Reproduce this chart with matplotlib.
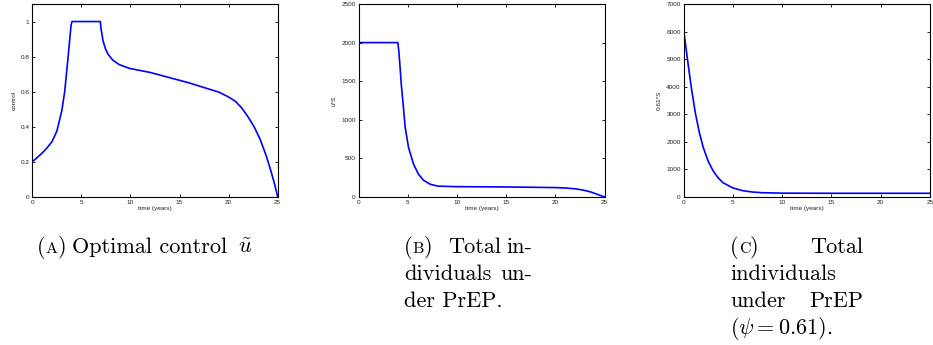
import matplotlib
matplotlib.use("Agg")
import matplotlib.pyplot as plt
from matplotlib.ticker import FormatStrFormatter

plt.rcParams['mathtext.fontset'] = 'cm'
plt.rcParams['font.family'] = ['Liberation Sans', 'DejaVu Sans']

# optimal control u(t)
ctrl_t = [0, 0.5, 1.0, 1.5, 2.0, 2.5, 2.8, 3.0, 3.3, 3.6, 3.8, 3.95, 4.05, 6.93, 7.0,
          7.2, 7.45, 7.7, 8.2, 8.88, 9.9, 12, 14, 16, 18, 19, 20, 20.7, 21.3, 22,
          22.6, 23.2, 23.8, 24.3, 24.7, 25]
ctrl_u = [0.20, 0.225, 0.25, 0.28, 0.315, 0.375, 0.444, 0.49, 0.60, 0.77, 0.89, 0.98,
          1.0, 1.0, 0.96, 0.891, 0.845, 0.815, 0.78, 0.754, 0.733, 0.71, 0.68, 0.65,
          0.615, 0.598, 0.57, 0.545, 0.51, 0.455, 0.40, 0.33, 0.24, 0.15, 0.07, 0.0]

# u*S
prep_t = [0, 4.0, 4.1, 4.22, 4.35, 4.5, 4.74, 5.08, 5.59, 6.09, 6.6, 7.28, 8.1, 10, 15,
          20, 21, 22, 22.8, 23.5, 24, 24.5, 25]
prep_uS = [2000, 2000, 1880, 1683, 1450, 1250, 902, 642, 425, 295, 217, 165, 140, 134,
           130, 122, 117, 106, 90, 68, 47, 22, 0]

# 0.61*S
prep61_t = [0, 0.4, 0.8, 1.2, 1.6, 2.0, 2.5, 3.0, 3.5, 4.0, 5.0, 6.0, 7.0, 8.0, 10,
            15, 20, 25]
prep61_S = [6100, 5000, 3950, 3050, 2350, 1800, 1300, 950, 700, 520, 330, 230, 180,
            155, 140, 135, 135, 135]

W, H = 933, 345
fig = plt.figure(figsize=(W / 100, H / 100), dpi=100)


def make_axes(left, right, top=4, bottom=197):
    ax = fig.add_axes([left / W, 1 - bottom / H, (right - left) / W, (bottom - top) / H])
    for s in ax.spines.values():
        s.set_linewidth(0.8)
    ax.tick_params(direction='in', length=2.5, width=0.6, top=True, right=True,
                   labelsize=4.6, pad=2, colors='black', labelcolor='#222222')
    ax.set_xlim(0, 25)
    ax.set_xticks([0, 5, 10, 15, 20, 25])
    ax.set_xlabel("time (years)", fontsize=4.6, labelpad=1, color='#222222')
    return ax


ax1 = make_axes(32.3, 277.7)
ax1.plot(ctrl_t, ctrl_u, color='#0000ff', lw=1.2)
ax1.set_ylim(0, 1.1)
ax1.set_yticks([0, 0.2, 0.4, 0.6, 0.8, 1])
ax1.yaxis.set_major_formatter(FormatStrFormatter('%g'))
ax1.set_ylabel("control", fontsize=4.6, labelpad=3, color='#222222')

ax2 = make_axes(358.5, 604.7)
ax2.plot(prep_t, prep_uS, color='#0000ff', lw=1.2)
ax2.set_ylim(0, 2500)
ax2.set_yticks(range(0, 2501, 500))
ax2.set_ylabel("u*S", fontsize=4.6, labelpad=3, color='#222222')

ax3 = make_axes(683.5, 930)
ax3.plot(prep61_t, prep61_S, color='#0000ff', lw=1.2)
ax3.set_ylim(0, 7000)
ax3.set_yticks(range(0, 7001, 1000))
ax3.set_ylabel("0.61*S", fontsize=4.6, labelpad=3, color='#222222')

# captions
renderer = fig.canvas.get_renderer()
CAP = 16


def word(x, y, s, ha='left', size=CAP):
    return fig.text(x / W, 1 - y / H, s, ha=ha, va='baseline', fontsize=size,
                    family='cmr10', color='black')


def label(x, y, letter):
    # "(X)" with a small-caps letter
    x0 = x
    for s, size in (("(", CAP), (letter, CAP * 0.72), (")", CAP)):
        t = word(x0, y, s, size=size)
        x0 += t.get_window_extent(renderer).width
    return x0


xa = label(37, 253, "A")
word(xa + 6, 253, "Optimal control")
fig.text(238 / W, 1 - 253 / H, r"$\tilde{u}$", ha='left', va='baseline', fontsize=CAP)

label(404, 253, "B")
word(448, 253, "Total")
word(532, 253, "in-", ha='right')
word(404, 280, "dividuals")
word(532, 280, "un-", ha='right')
word(404, 307, "der PrEP.")

label(730, 253, "C")
word(863, 253, "Total", ha='right')
word(730, 280, "individuals")
word(730, 307, "under")
word(863, 307, "PrEP", ha='right')
fig.text(730 / W, 1 - 334 / H, r"$(\psi = 0.61)$.", ha='left', va='baseline',
         fontsize=CAP)

fig.savefig("out.png", dpi=100)
